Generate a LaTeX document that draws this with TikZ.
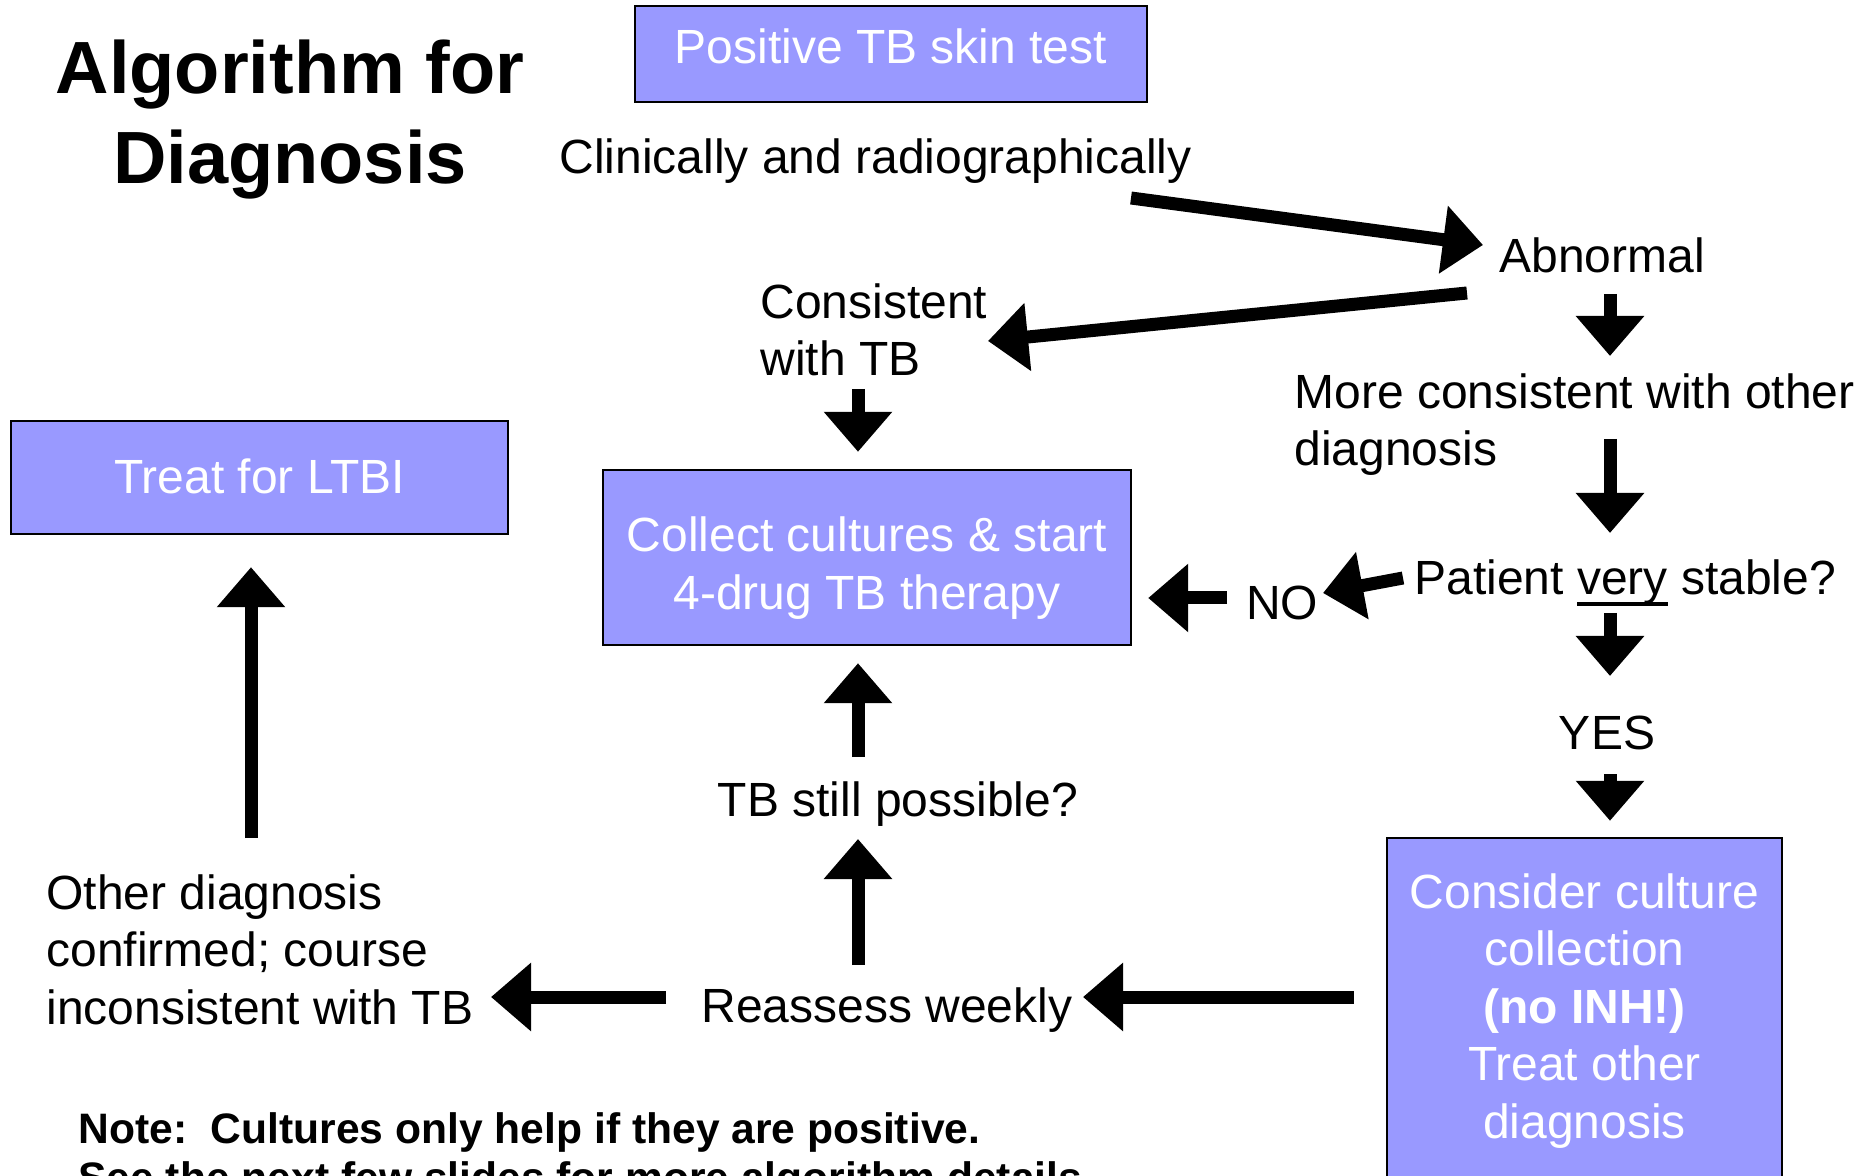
\documentclass[tikz,border=0pt]{standalone}
\usepackage{fontspec}
\setmainfont{Liberation Sans}
\usetikzlibrary{arrows.meta}
\definecolor{boxblue}{RGB}{153,153,255}
\newcommand{\ulword}[1]{\setbox0\hbox{#1}\rlap{\rule[-5.5pt]{\wd0}{2pt}}#1}

\begin{document}
\begin{tikzpicture}[x=0.5pt, y=-0.5pt,
        txt/.style={inner sep=0pt, font=\fontsize{24}{28.75}\selectfont},
        tbbox/.style={draw=black, line width=1.2pt, fill=boxblue, text=white, align=center,
            font=\fontsize{24}{28.75}\selectfont},
        fat/.style={line width=6.5pt, -{Triangle[width=33pt,length=20pt]}}]
        \useasboundingbox (0,0) rectangle (1860,1176);

        \node[inner sep=0pt, align=center, anchor=north, font=\fontsize{37}{45}\selectfont\bfseries]
            (title) at (290,39) {Algorithm for\\Diagnosis};

        \node[tbbox, minimum width=256pt, minimum height=48pt, text height=17.5pt, text depth=7.5pt]
            (skin) at (891,54) {Positive TB skin test};
        \node[tbbox, minimum width=248.5pt, minimum height=56.5pt, text height=17.5pt, text depth=1pt]
            (ltbi) at (259.5,477.5) {Treat for LTBI};
        \node[tbbox, minimum width=264pt, minimum height=87.5pt]
            (collect) at (867,557.5) {\rule{0pt}{28pt}Collect cultures \& start\\4-drug TB therapy};
        \node[tbbox, minimum width=197.5pt, minimum height=170pt]
            (consider) at (1584.5,1008) {\rule{0pt}{20pt}Consider culture\\collection\\\textbf{(no INH!)}\\Treat other\\diagnosis};

        \node[txt, anchor=base west] (clin) at (559,174) {Clinically and radiographically};
        \node[txt, anchor=base west] (abn) at (1499,273) {Abnormal};
        \node[txt, anchor=north west, align=left] (consist) at (760,283) {Consistent\\with TB};
        \node[txt, anchor=north west, align=left] (other) at (1294,373) {More consistent with other\\diagnosis};
        \node[txt, anchor=base west] (stable) at (1414,595) {Patient \ulword{very} stable?};
        \node[txt, anchor=base] (no) at (1282,620) {NO};
        \node[txt, anchor=base] (yes) at (1607,749) {YES};
        \node[txt, anchor=base] (still) at (898,816) {TB still possible?};
        \node[txt, anchor=base] (reassess) at (887,1022) {Reassess weekly};
        \node[txt, anchor=north west, align=left] (otherdx) at (46,874)
            {Other diagnosis\\confirmed; course\\inconsistent with TB};
        \node[inner sep=0pt, anchor=north west, align=left, font=\fontsize{21.3}{24.5}\selectfont\bfseries]
            (note) at (78,1112) {Note:\ \ Cultures only help if they are positive.\\See the next few slides for more algorithm details.};

        \draw[fat] ([shift={(572,24)}]clin.base west) -- ([shift={(-16,-28)}]abn.base west);
        \draw[fat] ([shift={(-32,20)}]abn.base west) -- ([shift={(228,58)}]consist.north west);
        \draw[fat] ([shift={(111,21)}]abn.base west) -- ([shift={(316,-17)}]other.north west);
        \draw[fat] ([shift={(98,106)}]consist.north west) -- ([shift={(-9,-17)}]collect.north);
        \draw[fat] ([shift={(316,66)}]other.north west) -- ([shift={(196,-62)}]stable.base west);
        \draw[fat] ([shift={(-11,-17)}]stable.base west) -- ([shift={(41,-27)}]no.base);
        \draw[fat] ([shift={(-55,-22)}]no.base) -- ([shift={(16,40.5)}]collect.east);
        \draw[fat] ([shift={(196,18)}]stable.base west) -- ([shift={(3,-73)}]yes.base);
        \draw[fat] ([shift={(3,25)}]yes.base) -- ([shift={(25.5,-16)}]consider.north);
        \draw[fat] ([shift={(-32,-11)}]consider.west) -- ([shift={(196,-25)}]reassess.base);
        \draw[fat] ([shift={(-221,-25)}]reassess.base) -- ([shift={(445,123)}]otherdx.north west);
        \draw[fat] ([shift={(-29,-57)}]reassess.base) -- ([shift={(-40,23)}]still.base);
        \draw[fat] ([shift={(-40,-59)}]still.base) -- ([shift={(-9,17)}]collect.south);
        \draw[fat] ([shift={(205,-36)}]otherdx.north west) -- ([shift={(-8.5,32)}]ltbi.south);
    \end{tikzpicture}
\end{document}
